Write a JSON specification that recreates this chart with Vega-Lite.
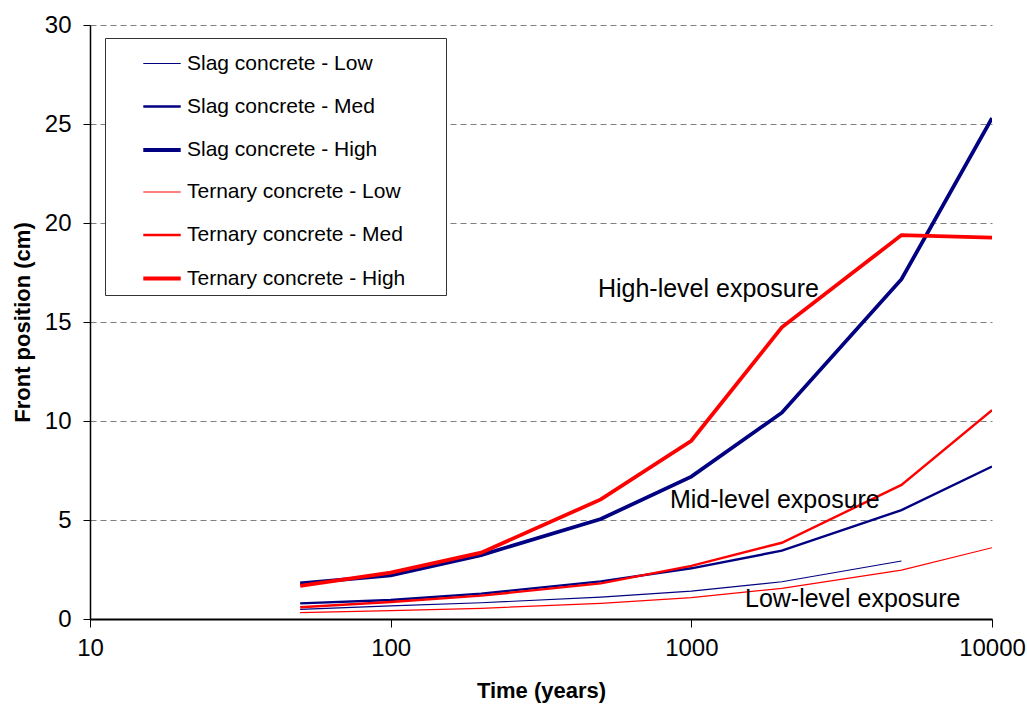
{
  "$schema": "https://vega.github.io/schema/vega-lite/v6.json",
  "autosize": "none",
  "width": 902,
  "height": 594,
  "padding": {"left": 90, "top": 25, "right": 35, "bottom": 86},
  "background": "white",
  "config": {
    "font": "Liberation Sans",
    "view": {"stroke": null},
    "axis": {"labelFont": "Liberation Sans", "titleFont": "Liberation Sans", "labelColor": "black", "titleColor": "black"}
  },
  "datasets": {
    "curves": [
      {"series": "Slag concrete - Low", "time": 50, "front": 0.49},
      {"series": "Slag concrete - Low", "time": 100, "front": 0.66},
      {"series": "Slag concrete - Low", "time": 200, "front": 0.82},
      {"series": "Slag concrete - Low", "time": 500, "front": 1.1},
      {"series": "Slag concrete - Low", "time": 1000, "front": 1.41},
      {"series": "Slag concrete - Low", "time": 2000, "front": 1.88},
      {"series": "Slag concrete - Low", "time": 5000, "front": 2.93},
      {"series": "Slag concrete - Med", "time": 50, "front": 0.79},
      {"series": "Slag concrete - Med", "time": 100, "front": 0.96},
      {"series": "Slag concrete - Med", "time": 200, "front": 1.28},
      {"series": "Slag concrete - Med", "time": 500, "front": 1.9},
      {"series": "Slag concrete - Med", "time": 1000, "front": 2.56},
      {"series": "Slag concrete - Med", "time": 2000, "front": 3.45},
      {"series": "Slag concrete - Med", "time": 5000, "front": 5.5},
      {"series": "Slag concrete - Med", "time": 10000, "front": 7.7},
      {"series": "Slag concrete - High", "time": 50, "front": 1.8},
      {"series": "Slag concrete - High", "time": 100, "front": 2.2},
      {"series": "Slag concrete - High", "time": 200, "front": 3.23},
      {"series": "Slag concrete - High", "time": 500, "front": 5.05},
      {"series": "Slag concrete - High", "time": 1000, "front": 7.19},
      {"series": "Slag concrete - High", "time": 2000, "front": 10.42},
      {"series": "Slag concrete - High", "time": 5000, "front": 17.16},
      {"series": "Slag concrete - High", "time": 10000, "front": 25.3},
      {"series": "Ternary concrete - Low", "time": 50, "front": 0.32},
      {"series": "Ternary concrete - Low", "time": 100, "front": 0.42},
      {"series": "Ternary concrete - Low", "time": 200, "front": 0.54},
      {"series": "Ternary concrete - Low", "time": 500, "front": 0.79},
      {"series": "Ternary concrete - Low", "time": 1000, "front": 1.08},
      {"series": "Ternary concrete - Low", "time": 2000, "front": 1.55},
      {"series": "Ternary concrete - Low", "time": 5000, "front": 2.47},
      {"series": "Ternary concrete - Low", "time": 10000, "front": 3.6},
      {"series": "Ternary concrete - Med", "time": 50, "front": 0.59},
      {"series": "Ternary concrete - Med", "time": 100, "front": 0.86},
      {"series": "Ternary concrete - Med", "time": 200, "front": 1.18},
      {"series": "Ternary concrete - Med", "time": 500, "front": 1.8},
      {"series": "Ternary concrete - Med", "time": 1000, "front": 2.68},
      {"series": "Ternary concrete - Med", "time": 2000, "front": 3.85},
      {"series": "Ternary concrete - Med", "time": 5000, "front": 6.77},
      {"series": "Ternary concrete - Med", "time": 10000, "front": 10.55},
      {"series": "Ternary concrete - High", "time": 50, "front": 1.67},
      {"series": "Ternary concrete - High", "time": 100, "front": 2.34},
      {"series": "Ternary concrete - High", "time": 200, "front": 3.35},
      {"series": "Ternary concrete - High", "time": 500, "front": 6.04},
      {"series": "Ternary concrete - High", "time": 1000, "front": 9.0},
      {"series": "Ternary concrete - High", "time": 2000, "front": 14.73},
      {"series": "Ternary concrete - High", "time": 5000, "front": 19.39},
      {"series": "Ternary concrete - High", "time": 10000, "front": 19.26}
    ],
    "notes": [
      {"label": "High-level exposure", "time": 489, "front": 16.67},
      {"label": "Mid-level exposure", "time": 849, "front": 6.0},
      {"label": "Low-level exposure", "time": 1508, "front": 1.0}
    ]
  },
  "layer": [
    {
      "mark": {"type": "rule", "color": "black", "strokeWidth": 1},
      "encoding": {"x": {"datum": 10000, "type": "quantitative", "scale": {"type": "log", "domain": [10, 10000]}}}
    },
    {
      "data": {"name": "curves"},
      "mark": {"type": "line", "strokeJoin": "miter", "clip": true},
      "encoding": {
        "x": {
          "field": "time", "type": "quantitative",
          "scale": {"type": "log", "domain": [10, 10000]},
          "axis": {
            "title": "Time (years)", "titleFontSize": 22, "titleFontWeight": "bold", "titlePadding": 20,
            "values": [10, 100, 1000, 10000], "format": "d", "labelFontSize": 24, "labelPadding": 9,
            "grid": false, "domainColor": "black", "domainWidth": 2, "tickColor": "black", "tickSize": 8, "tickWidth": 1,
            "labelFlush": false
          }
        },
        "y": {
          "field": "front", "type": "quantitative",
          "scale": {"domain": [0, 30], "nice": false},
          "axis": {
            "title": "Front position (cm)", "titleFontSize": 22, "titleFontWeight": "bold", "titlePadding": 10,
            "values": [0, 5, 10, 15, 20, 25, 30], "labelFontSize": 24, "labelPadding": 12,
            "grid": true, "gridColor": "#7f7f7f", "gridDash": [6, 4], "gridWidth": 1.2,
            "domainColor": "black", "domainWidth": 1.5, "tickColor": "black", "tickSize": 7, "tickWidth": 1
          }
        },
        "color": {
          "field": "series", "type": "ordinal",
          "scale": {
            "type": "ordinal",
            "domain": ["Slag concrete - Low", "Slag concrete - Med", "Slag concrete - High", "Ternary concrete - Low", "Ternary concrete - Med", "Ternary concrete - High"],
            "range": ["#000080", "#000080", "#000080", "#ff0000", "#ff0000", "#ff0000"]
          },
          "legend": {
            "title": "\u00a0", "titleOrient": "right", "titlePadding": 35, "titleFontSize": 8,
            "orient": "none", "legendX": 15, "legendY": 13,
            "symbolType": "stroke", "symbolSize": 1400, "labelFontSize": 21, "labelFont": "Liberation Sans", "labelColor": "black",
            "rowPadding": 12.5, "padding": 6, "symbolOffset": 30, "labelOffset": 4,
            "strokeColor": "#333333", "fillColor": "white", "labelLimit": 400
          }
        },
        "strokeWidth": {
          "field": "series", "type": "ordinal",
          "scale": {
            "type": "ordinal",
            "domain": ["Slag concrete - Low", "Slag concrete - Med", "Slag concrete - High", "Ternary concrete - Low", "Ternary concrete - Med", "Ternary concrete - High"],
            "range": [1.2, 2.4, 3.8, 1.2, 2.4, 3.8]
          }
        }
      }
    },
    {
      "data": {"name": "notes"},
      "mark": {"type": "text", "align": "left", "baseline": "middle", "fontSize": 25, "font": "Liberation Sans", "color": "black"},
      "encoding": {
        "x": {"field": "time", "type": "quantitative"},
        "y": {"field": "front", "type": "quantitative"},
        "text": {"field": "label"}
      }
    }
  ]
}
